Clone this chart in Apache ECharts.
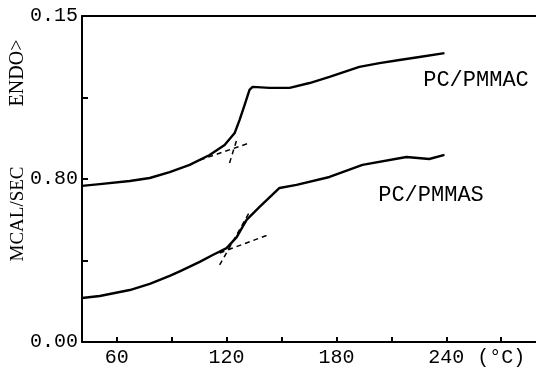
<!DOCTYPE html>
<html>
<head>
<meta charset="utf-8">
<script src="https://cdn.jsdelivr.net/npm/echarts@6/dist/echarts.min.js"></script>
<style>
  html, body { margin: 0; padding: 0; background: #fff; }
  #chart { width: 536px; height: 373px; }
</style>
</head>
<body>
<div id="chart"></div>
<script>
// temperature (deg C) and heat flow for the two DSC traces
var macTemp = [41, 50.7, 67.1, 78, 88.9, 99.8, 110.7, 118.9, 124.4, 127.1, 129.8, 132.5, 134.2, 143.4, 154.4, 165.3, 176.2, 192.5, 203.5, 214.4, 225.3, 239];
var macFlow = [0.766, 0.775, 0.79, 0.805, 0.834, 0.869, 0.918, 0.967, 1.026, 1.09, 1.163, 1.237, 1.252, 1.247, 1.247, 1.271, 1.301, 1.35, 1.369, 1.384, 1.399, 1.418];

var masTemp = [41, 50.7, 67.1, 78, 88.9, 94.4, 105.3, 112.4, 120, 125.5, 130.9, 138, 148.9, 158.2, 176.2, 194.2, 218.2, 230.7, 239];
var masFlow = [0.216, 0.226, 0.255, 0.285, 0.325, 0.347, 0.393, 0.427, 0.461, 0.515, 0.599, 0.663, 0.756, 0.771, 0.81, 0.869, 0.908, 0.898, 0.918];

// tangent construction lines (dashed)
var macBase = [[105.3, 0.893], [132.5, 0.977]];
var macSteep = [[121.6, 0.879], [126, 1.006]];
var masBase = [[116.2, 0.437], [142.4, 0.525]];
var masSteep = [[116.2, 0.378], [132.5, 0.638]];

var xTicks = [60, 90, 120, 150, 180, 210, 240, 270];
var xLabels = [60, 120, 180, 240, 270];
var yLabels = ['0.00', '', '0.80', '', '0.15'];

function pairs(xs, ys) {
  return xs.map(function (x, i) { return [x, ys[i]]; });
}

var mono = '"Liberation Mono", "DejaVu Sans Mono", monospace';
var serif = '"Liberation Serif", "DejaVu Serif", serif';

var myChart = echarts.init(document.getElementById('chart'));

function traceSeries(data) {
  return {
    type: 'line', data: data, symbol: 'none',
    lineStyle: { color: '#000', width: 2.4, join: 'round' }, silent: true
  };
}
function dashSeries(data) {
  return {
    type: 'line', data: data, symbol: 'none',
    lineStyle: { color: '#000', width: 1.5, type: [5, 4] }, silent: true
  };
}

myChart.setOption({
  animation: false,
  backgroundColor: '#fff',
  grid: { left: 82, top: 16, right: 0, bottom: 31 },
  xAxis: [{
    type: 'value', min: 41, max: 289,
    axisLine: { lineStyle: { color: '#000', width: 2 } },
    axisTick: { inside: true, length: 5, customValues: xTicks, lineStyle: { color: '#000', width: 2 } },
    axisLabel: {
      customValues: xLabels, color: '#000', fontFamily: mono, fontSize: 20, margin: 6,
      formatter: function (v) { return v === 270 ? '(\u00b0C)' : String(v); }
    },
    splitLine: { show: false }
  }, {
    type: 'value', position: 'top', min: 41, max: 289,
    axisLine: { show: true, lineStyle: { color: '#000', width: 2 } },
    axisTick: { show: false }, axisLabel: { show: false }, splitLine: { show: false }
  }],
  yAxis: {
    type: 'value', min: 0, max: 1.6, interval: 0.4,
    axisLine: { show: true, lineStyle: { color: '#000', width: 2 } },
    axisTick: { show: true, inside: true, length: 6, lineStyle: { color: '#000', width: 2 } },
    axisLabel: {
      color: '#000', fontFamily: mono, fontSize: 20, margin: 4,
      formatter: function (v) { return yLabels[Math.round(v / 0.4)]; }
    },
    splitLine: { show: false }
  },
  graphic: [
    { type: 'text', x: 18, y: 73, rotation: Math.PI / 2,
      style: { text: 'ENDO>', font: '20px ' + serif, fill: '#000', align: 'center', verticalAlign: 'middle' } },
    { type: 'text', x: 18, y: 214, rotation: Math.PI / 2,
      style: { text: 'MCAL/SEC', font: '19px ' + serif, fill: '#000', align: 'center', verticalAlign: 'middle' } },
    { type: 'text', x: 476, y: 80,
      style: { text: 'PC/PMMAC', font: '22px ' + mono, fill: '#000', align: 'center', verticalAlign: 'middle' } },
    { type: 'text', x: 431, y: 195,
      style: { text: 'PC/PMMAS', font: '22px ' + mono, fill: '#000', align: 'center', verticalAlign: 'middle' } }
  ],
  series: [
    traceSeries(pairs(macTemp, macFlow)),
    traceSeries(pairs(masTemp, masFlow)),
    dashSeries(macBase),
    dashSeries(macSteep),
    dashSeries(masBase),
    dashSeries(masSteep)
  ]
});
</script>
</body>
</html>
